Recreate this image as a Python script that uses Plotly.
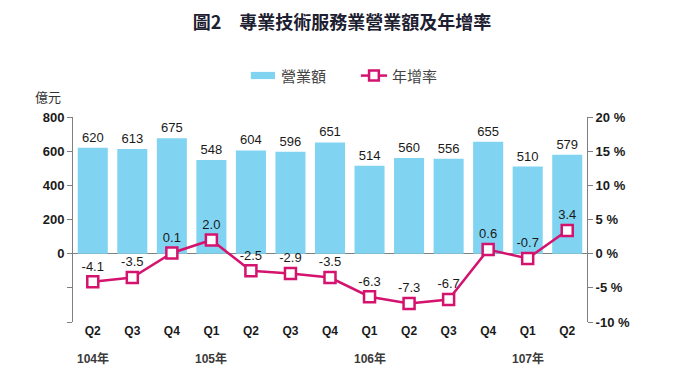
import plotly.graph_objects as go

quarters = ["Q2", "Q3", "Q4", "Q1", "Q2", "Q3", "Q4", "Q1", "Q2", "Q3", "Q4", "Q1", "Q2"]
years = ["104年", "", "", "105年", "", "", "", "106年", "", "", "", "107年", ""]
revenue = [620, 613, 675, 548, 604, 596, 651, 514, 560, 556, 655, 510, 579]
growth = [-4.1, -3.5, 0.1, 2.0, -2.5, -2.9, -3.5, -6.3, -7.3, -6.7, 0.6, -0.7, 3.4]

left_ticks = [-400, -200, 0, 200, 400, 600, 800]
left_text = ["", "", "0", "200", "400", "600", "800"]
right_ticks = [-10, -5, 0, 5, 10, 15, 20]
right_text = ["-10 %", "-5 %", "0 %", "5 %", "10 %", "15 %", "20 %"]

BAR_COLOR = "#80D4F1"
LINE_COLOR = "#D4136F"
x = list(range(len(quarters)))

lat = "Liberation Sans, Arial, sans-serif"
cjk = "Noto Sans CJK TC, sans-serif"

fig = go.Figure()
fig.add_trace(go.Bar(
    x=x, y=revenue, name="營業額", marker_color=BAR_COLOR, marker_line_width=0,
    text=[str(v) for v in revenue], textposition="outside",
    textfont=dict(family=lat, size=13, color="#1a1a1a"),
    cliponaxis=False, yaxis="y", showlegend=False,
))
fig.add_trace(go.Scatter(
    x=x, y=growth, name="年增率", mode="lines+markers+text", yaxis="y2",
    line=dict(color=LINE_COLOR, width=2.5),
    marker=dict(symbol="square", size=11, color="white", line=dict(color=LINE_COLOR, width=2.5)),
    text=[f"{v:.1f}" for v in growth], textposition="top center",
    textfont=dict(family=lat, size=13, color="#1a1a1a"),
    cliponaxis=False, showlegend=False,
))

# the page adds an 8px body margin; size the figure to compensate
fig.update_layout(
    width=672, height=375,
    margin=dict(l=65, r=93, t=109, b=61),
    paper_bgcolor="white", plot_bgcolor="white",
    bargap=0.24,
    showlegend=False,
    title=dict(text="<b>圖2　專業技術服務業營業額及年增率</b>", x=0.497, xanchor="center",
               y=0.96, yanchor="middle",
               font=dict(family=cjk, size=18, color="#1c2030")),
    xaxis=dict(tickmode="array", tickvals=x, ticktext=quarters, range=[-0.5, len(x) - 0.5],
               showline=False, ticks="", showgrid=False, zeroline=False,
               tickfont=dict(family=lat, size=12, color="#1a1a1a", weight="bold")),
    yaxis=dict(range=[-400, 800], tickmode="array", tickvals=left_ticks, ticktext=left_text,
               showline=True, linecolor="#7f7f7f", linewidth=1, ticks="outside", ticklen=5,
               tickcolor="#7f7f7f", showgrid=False, zeroline=True, zerolinecolor="#7f7f7f",
               zerolinewidth=1, tickfont=dict(family=lat, size=13, color="#1a1a1a", weight="bold")),
    yaxis2=dict(range=[-10, 20], overlaying="y", side="right", tickmode="array",
                tickvals=right_ticks, ticktext=right_text, showline=True, linecolor="#7f7f7f",
                linewidth=1, ticks="outside", ticklen=5, tickcolor="#7f7f7f", showgrid=False,
                zeroline=False,
                tickfont=dict(family=lat, size=13, color="#1a1a1a", weight="bold")),
)

# year labels under the quarter ticks
for xi, yr in zip(x, years):
    if yr:
        fig.add_annotation(text=yr, x=xi, xref="x", y=-0.18, yref="paper",
                           xanchor="center", yanchor="middle", showarrow=False,
                           font=dict(family=lat + ", " + cjk, size=12, color="#3a3a3a",
                                     weight="bold"))

# unit label
fig.add_annotation(text="億元", xref="paper", yref="paper", x=-0.049, y=1.098,
                   xanchor="center", yanchor="middle", showarrow=False,
                   font=dict(family=cjk, size=13, color="#333333"))

# legend (drawn manually to match the original's wide swatches)
fig.add_shape(type="rect", xref="paper", yref="paper", x0=0.346, x1=0.393, y0=1.185, y1=1.22,
              fillcolor=BAR_COLOR, line_width=0)
fig.add_annotation(text="營業額", xref="paper", yref="paper", x=0.401, y=1.202,
                   xanchor="left", yanchor="middle", showarrow=False,
                   font=dict(family=cjk, size=15, color="#444444"))
fig.add_shape(type="line", xref="paper", yref="paper", x0=0.560, x1=0.611, y0=1.202, y1=1.202,
              line=dict(color=LINE_COLOR, width=2.5))
fig.add_shape(type="rect", xref="paper", yref="paper", x0=0.576, x1=0.595, y0=1.178, y1=1.227,
              fillcolor="white", line=dict(color=LINE_COLOR, width=2.5))
fig.add_annotation(text="年增率", xref="paper", yref="paper", x=0.617, y=1.202,
                   xanchor="left", yanchor="middle", showarrow=False,
                   font=dict(family=cjk, size=15, color="#444444"))

fig.write_html("out.html")
